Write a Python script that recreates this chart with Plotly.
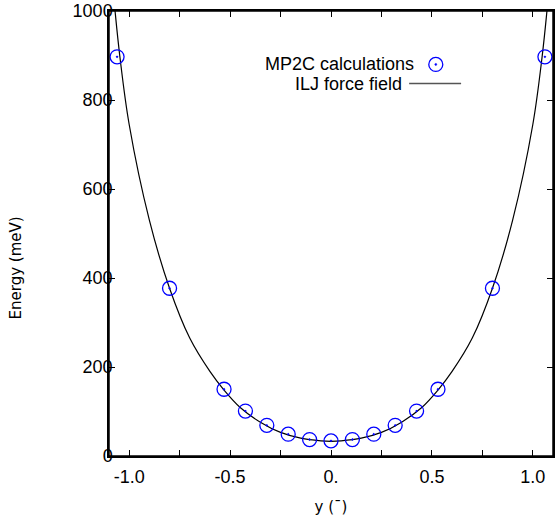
import plotly.graph_objects as go

# MP2C calculation points
mp2c_x = [-1.06, -0.80, -0.53, -0.424, -0.318, -0.212, -0.106, 0.0,
          0.106, 0.212, 0.318, 0.424, 0.53, 0.80, 1.06]
mp2c_y = [897, 377, 150, 101, 69, 49, 37, 34,
          37, 49, 69, 101, 150, 377, 897]

# ILJ force field curve
ilj_x = [-1.09, -1.07, -1.046, -1.0, -0.9, -0.8, -0.7, -0.6, -0.53, -0.45,
         -0.35, -0.25, -0.15, -0.05, 0.0, 0.05, 0.15, 0.25, 0.35, 0.45,
         0.53, 0.6, 0.7, 0.8, 0.9, 1.0, 1.046, 1.07, 1.09]
ilj_y = [1100, 1000, 897, 745, 530, 377, 265, 190, 148, 109,
         76, 53, 40, 34, 33, 34, 40, 53, 76, 109,
         148, 190, 265, 377, 530, 745, 897, 1000, 1100]

x_tickvals = [-1.0, -0.75, -0.5, -0.25, 0.0, 0.25, 0.5, 0.75, 1.0]
x_ticktext = ["-1.0", "", "-0.5", "", "0.", "", "0.5", "", "1.0"]
y_tickvals = [0, 200, 400, 600, 800, 1000]

legend_labels = ["MP2C calculations", "ILJ force field"]
x_title = "y (\u00af)"
y_title = "Energy (meV)"

fig = go.Figure()
fig.add_trace(go.Scatter(
    x=ilj_x, y=ilj_y, mode="lines", name=legend_labels[1],
    line=dict(color="black", width=1.2, shape="spline", smoothing=1.0),
    showlegend=False))
fig.add_trace(go.Scatter(
    x=mp2c_x, y=mp2c_y, mode="markers", name=legend_labels[0],
    marker=dict(symbol="circle-open-dot", size=14, color="#0000ff",
                line=dict(width=1.3, color="#0000ff")),
    showlegend=False))

tickfont = dict(family="Liberation Sans, Arial, sans-serif", size=18, color="black")
titlefont = dict(family="DejaVu Sans, sans-serif", size=15, color="black")

fig.update_xaxes(
    range=[-1.1, 1.1], tickvals=x_tickvals, ticktext=x_ticktext,
    ticks="inside", ticklen=6, tickcolor="black", tickwidth=1,
    showline=True, linecolor="black", linewidth=1.5, mirror="ticks",
    showgrid=False, zeroline=False, tickfont=tickfont,
    ticklabelstandoff=4, ticklabeloverflow="allow",
    title=dict(text=x_title, font=titlefont, standoff=15))
fig.update_yaxes(
    range=[0, 1000], tickvals=y_tickvals,
    ticks="inside", ticklen=6, tickcolor="black", tickwidth=1,
    showline=True, linecolor="black", linewidth=1.5, mirror="ticks",
    showgrid=False, zeroline=False, tickfont=tickfont,
    ticklabelstandoff=-9, ticklabeloverflow="allow")

# frame around the plot area
fig.add_shape(type="rect", xref="paper", yref="paper",
              x0=0, x1=1, y0=0, y1=1, layer="above",
              line=dict(color="black", width=1.5))

fig.add_annotation(x=-0.2085, y=0.4225, xref="paper", yref="paper",
                   text=y_title, showarrow=False, textangle=-90,
                   xanchor="center", yanchor="middle", font=titlefont)

# manual key (text left of sample, gnuplot style)
legfont = dict(family="Liberation Sans, Arial, sans-serif", size=18, color="black")
fig.add_annotation(x=0.692, y=0.880, xref="paper", yref="paper",
                   text=legend_labels[0], showarrow=False, xanchor="right",
                   yanchor="middle", font=legfont)
fig.add_annotation(x=0.664, y=0.837, xref="paper", yref="paper",
                   text=legend_labels[1], showarrow=False, xanchor="right",
                   yanchor="middle", font=legfont)
fig.add_shape(type="line", xref="paper", yref="paper",
              x0=0.676, x1=0.793, y0=0.837, y1=0.837,
              line=dict(color="#555555", width=1.6))
fig.add_shape(type="circle", xref="paper", yref="paper",
              xsizemode="pixel", ysizemode="pixel",
              xanchor=0.736, yanchor=0.880, x0=-7, x1=7, y0=-7, y1=7,
              line=dict(color="#0000ff", width=1.3))
fig.add_shape(type="circle", xref="paper", yref="paper",
              xsizemode="pixel", ysizemode="pixel",
              xanchor=0.736, yanchor=0.880, x0=-1, x1=1, y0=-1, y1=1,
              line=dict(color="#0000ff", width=0.5), fillcolor="#0000ff")

fig.update_layout(
    width=556, height=523,
    margin=dict(l=109, r=1, t=11, b=67),
    plot_bgcolor="white", paper_bgcolor="white",
    showlegend=False)

fig.write_html("out.html",
               config={"displayModeBar": False},
               post_script="document.body.style.margin='0';"
                           "document.body.style.overflow='hidden';")
